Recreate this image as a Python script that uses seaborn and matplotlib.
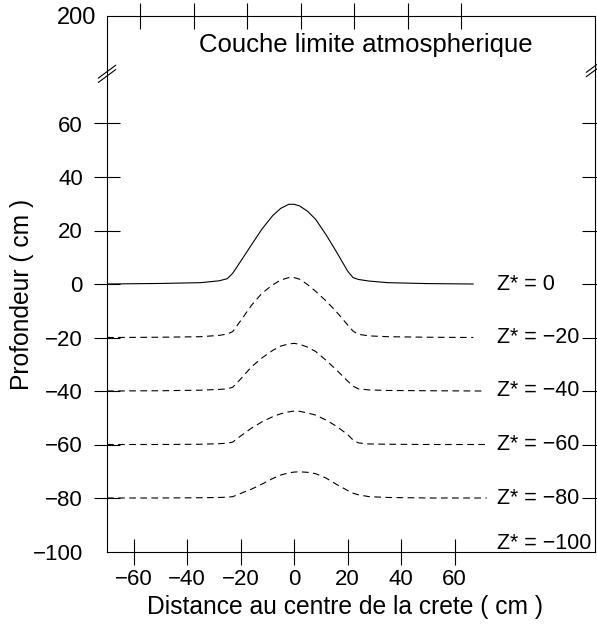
import numpy as np
import pandas as pd
import seaborn as sns
import matplotlib.pyplot as plt

sns.set_style("white")
plt.rcParams['font.family'] = ['Liberation Sans', 'DejaVu Sans']
plt.rcParams['axes.unicode_minus'] = True
for k in ['text.color', 'axes.labelcolor', 'xtick.color', 'ytick.color', 'axes.edgecolor']:
    plt.rcParams[k] = 'black'

# distance from crest (cm), shared by all profiles
x_cm = [-70, -50, -35, -28, -25, -23, -20, -16, -12, -8, -5, -2, 0,
        2, 5, 8, 12, 16, 20, 22, 24, 28, 35, 50]
# last point of each profile (lines stop at slightly different places)
x_end = [67, 67, 70, 72, 72]

z_levels = [0, -20, -40, -60, -80]

prof_0 = [0.0, 0.2, 0.5, 1.2, 2.0, 4.0, 8.5, 14.6, 20.6, 25.6, 28.3, 29.8, 29.8,
          29.2, 27.2, 24.2, 18.3, 11.7, 4.8, 2.4, 1.7, 1.1, 0.5, 0.15, 0.0]
prof_20 = [-20.0, -19.9, -19.7, -19.2, -18.7, -17.8, -13.7, -8.0, -3.4, -0.3, 1.5, 2.4, 2.4,
           1.8, -0.2, -2.7, -6.4, -10.6, -15.3, -17.6, -18.8, -19.4, -19.7, -19.9, -20.0]
prof_40 = [-40.0, -39.9, -39.7, -39.4, -39.2, -38.6, -35.5, -31.0, -27.6, -24.8, -23.2, -22.4, -22.2,
           -22.5, -23.6, -25.2, -28.6, -32.3, -36.3, -38.2, -39.2, -39.6, -39.8, -39.9, -40.0]
prof_60 = [-60.0, -60.0, -59.9, -59.7, -59.5, -59.1, -56.8, -53.9, -51.5, -49.6, -48.5, -47.8, -47.5,
           -47.6, -48.2, -49.0, -50.9, -53.3, -56.3, -58.3, -59.4, -59.8, -59.9, -60.0, -60.0]
prof_80 = [-80.0, -80.0, -79.9, -79.8, -79.7, -79.5, -78.3, -76.7, -74.8, -72.7, -71.4, -70.6, -70.3,
           -70.2, -70.4, -70.9, -72.6, -75.0, -77.2, -78.2, -78.8, -79.5, -79.8, -80.0, -80.0]
profiles = [prof_0, prof_20, prof_40, prof_60, prof_80]

label_levels = [0, -20, -40, -60, -80, -100]
x_ticks = [-60, -40, -20, 0, 20, 40, 60]
y_ticks = [-100, -80, -60, -40, -20, 0, 20, 40, 60]

W, H = 597, 625
fig = plt.figure(figsize=(W / 100, H / 100), dpi=100)
L, R = 107, 595
ax = fig.add_axes([L / W, 73.5 / H, (R - L) / W, (555 - 73.5) / H])
ax_top = fig.add_axes([L / W, 555 / H, (R - L) / W, (609 - 555) / H])

tick_len = 18.7
lw = 0.8
fs_tick = 16

for z, prof, xe in zip(z_levels, profiles, x_end):
    xs = x_cm + [xe]
    ls = '-' if z == 0 else (0, (6, 4))
    sns.lineplot(x=xs, y=prof, ax=ax, color='black', linewidth=lw,
                 linestyle=ls, sort=False)

for z in label_levels:
    txt = f"Z* = {z}".replace('-', '\u2212')
    if z == -100:
        ax.text(76, z + 1, txt, ha='left', va='baseline', fontsize=15.5)
    else:
        ax.text(76, z, txt, ha='left', va='center', fontsize=15.5)

# lower (main) part of the broken axis
ax.set_xlim(-70, 112.5)
ax.set_ylim(-100, 80)
ax.set_xticks(x_ticks)
ax.set_yticks(y_ticks)
ax.spines['top'].set_visible(False)
for s in ['left', 'right', 'bottom']:
    ax.spines[s].set_linewidth(lw)
ax.tick_params(axis='x', direction='inout', length=tick_len, width=lw,
               labelsize=fs_tick, pad=3.5, bottom=True, top=False)
ax.tick_params(axis='y', direction='inout', length=tick_len, width=lw,
               labelsize=fs_tick, pad=8, left=True, right=True, labelright=False)
for t in ax.yaxis.get_major_ticks():
    if t.get_loc() == -100:
        t.tick1line.set_visible(False)
        t.tick2line.set_visible(False)
ax.set_xlabel('')
ax.set_ylabel('')

# upper part of the broken axis (up to 200)
ax_top.set_xlim(-72.5, 110)
ax_top.set_ylim(190, 200)
ax_top.set_xticks(x_ticks)
ax_top.set_yticks([200])
ax_top.spines['bottom'].set_visible(False)
for s in ['left', 'right', 'top']:
    ax_top.spines[s].set_linewidth(lw)
ax_top.tick_params(axis='x', direction='inout', length=tick_len, width=lw,
                   bottom=False, top=True, labelbottom=False, labeltop=False)
ax_top.tick_params(axis='y', length=0, labelsize=17, pad=8)
ax_top.patch.set_alpha(0)

# break marks on both spines
dx, dy = 0.018, 0.0135
for xb, yc in [(0, 0.992), (1, 1.004)]:
    for off in [-0.0045, 0.0045]:
        ax.plot([xb - dx, xb + dx], [yc + off - dy, yc + off + dy],
                transform=ax.transAxes, color='black', lw=lw, clip_on=False)

fig.text(366 / W, 1 - 45 / H, 'Couche limite atmospherique',
         ha='center', va='center', fontsize=18.5)
fig.text(345 / W, 1 - 607 / H, 'Distance au centre de la crete ( cm )',
         ha='center', va='center', fontsize=17.7)
fig.text(22 / W, 1 - 294 / H, 'Profondeur ( cm )', rotation=90,
         ha='center', va='center', fontsize=17.7)

fig.savefig('out.png', dpi=100, facecolor='white')
